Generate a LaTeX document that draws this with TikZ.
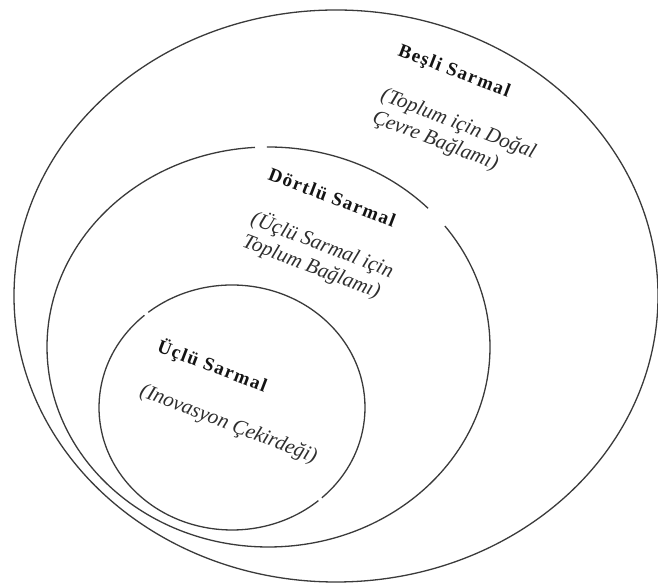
\documentclass[tikz,border=0pt]{standalone}
\usepackage{fontspec}
\setmainfont{Liberation Serif}
\newfontfamily\titlefont{Liberation Serif}[LetterSpace=8]
\definecolor{ln}{HTML}{3A3A3A}
\definecolor{tx}{HTML}{141414}
\definecolor{sub}{HTML}{2E2E2E}
\begin{document}
\begin{tikzpicture}[x=1pt,y=1pt,
  ring/.style={draw=ln, line width=1.3pt},
  ttl/.style={inner sep=0pt, anchor=base west, rotate=-21, text=tx,
    font=\titlefont\bfseries\fontsize{19}{23}\selectfont},
  subt/.style={inner sep=0pt, anchor=base west, rotate=-21, text=sub,
    font=\itshape\fontsize{21}{25}\selectfont}]
\useasboundingbox (0,0) rectangle (658,585);
\fill[white] (0,0) rectangle (658,585);
% centres
\coordinate (oc) at (336,289);
\coordinate (mc) at (268.5,238);
\coordinate (ic) at (232,177.5);
% outer ellipse (Beşli)
\draw[ring] (oc) ellipse [x radius=322pt, y radius=286pt];
% middle ellipse (Dörtlü) with two gaps
\draw[ring] (mc) ++(93.5:221.5pt and 200pt)
  arc[start angle=93.5, end angle=397.2, x radius=221.5pt, y radius=200pt];
\draw[ring] (mc) ++(43.9:221.5pt and 200pt)
  arc[start angle=43.9, end angle=90.4, x radius=221.5pt, y radius=200pt];
% inner ellipse (Üçlü) with two small gaps
\draw[ring] (ic) ++(-47.5:133pt and 122.5pt)
  arc[start angle=-47.5, end angle=129, x radius=133pt, y radius=122.5pt];
\draw[ring] (ic) ++(131.2:133pt and 122.5pt)
  arc[start angle=131.2, end angle=310.5, x radius=133pt, y radius=122.5pt];
% texts
\node[ttl]  (t5)  at (397,530)   {Beşli Sarmal};
\node[subt] (s5a) at (379.8,485.2) {(Toplum için Doğal};
\node[subt] (s5b) at (371.2,462.8) {Çevre Bağlamı)};
\node[ttl]  (t4)  at (267,406)   {Dörtlü Sarmal};
\node[subt] (s4a) at (249.8,361.2) {(Üçlü Sarmal için};
\node[subt] (s4b) at (241.2,338.8) {Toplum Bağlamı)};
\node[ttl]  (t3)  at (156,234)   {Üçlü Sarmal};
\node[subt] (s3a) at (138.8,189.2) {(Inovasyon Çekirdeği)};
\end{tikzpicture}
\end{document}
